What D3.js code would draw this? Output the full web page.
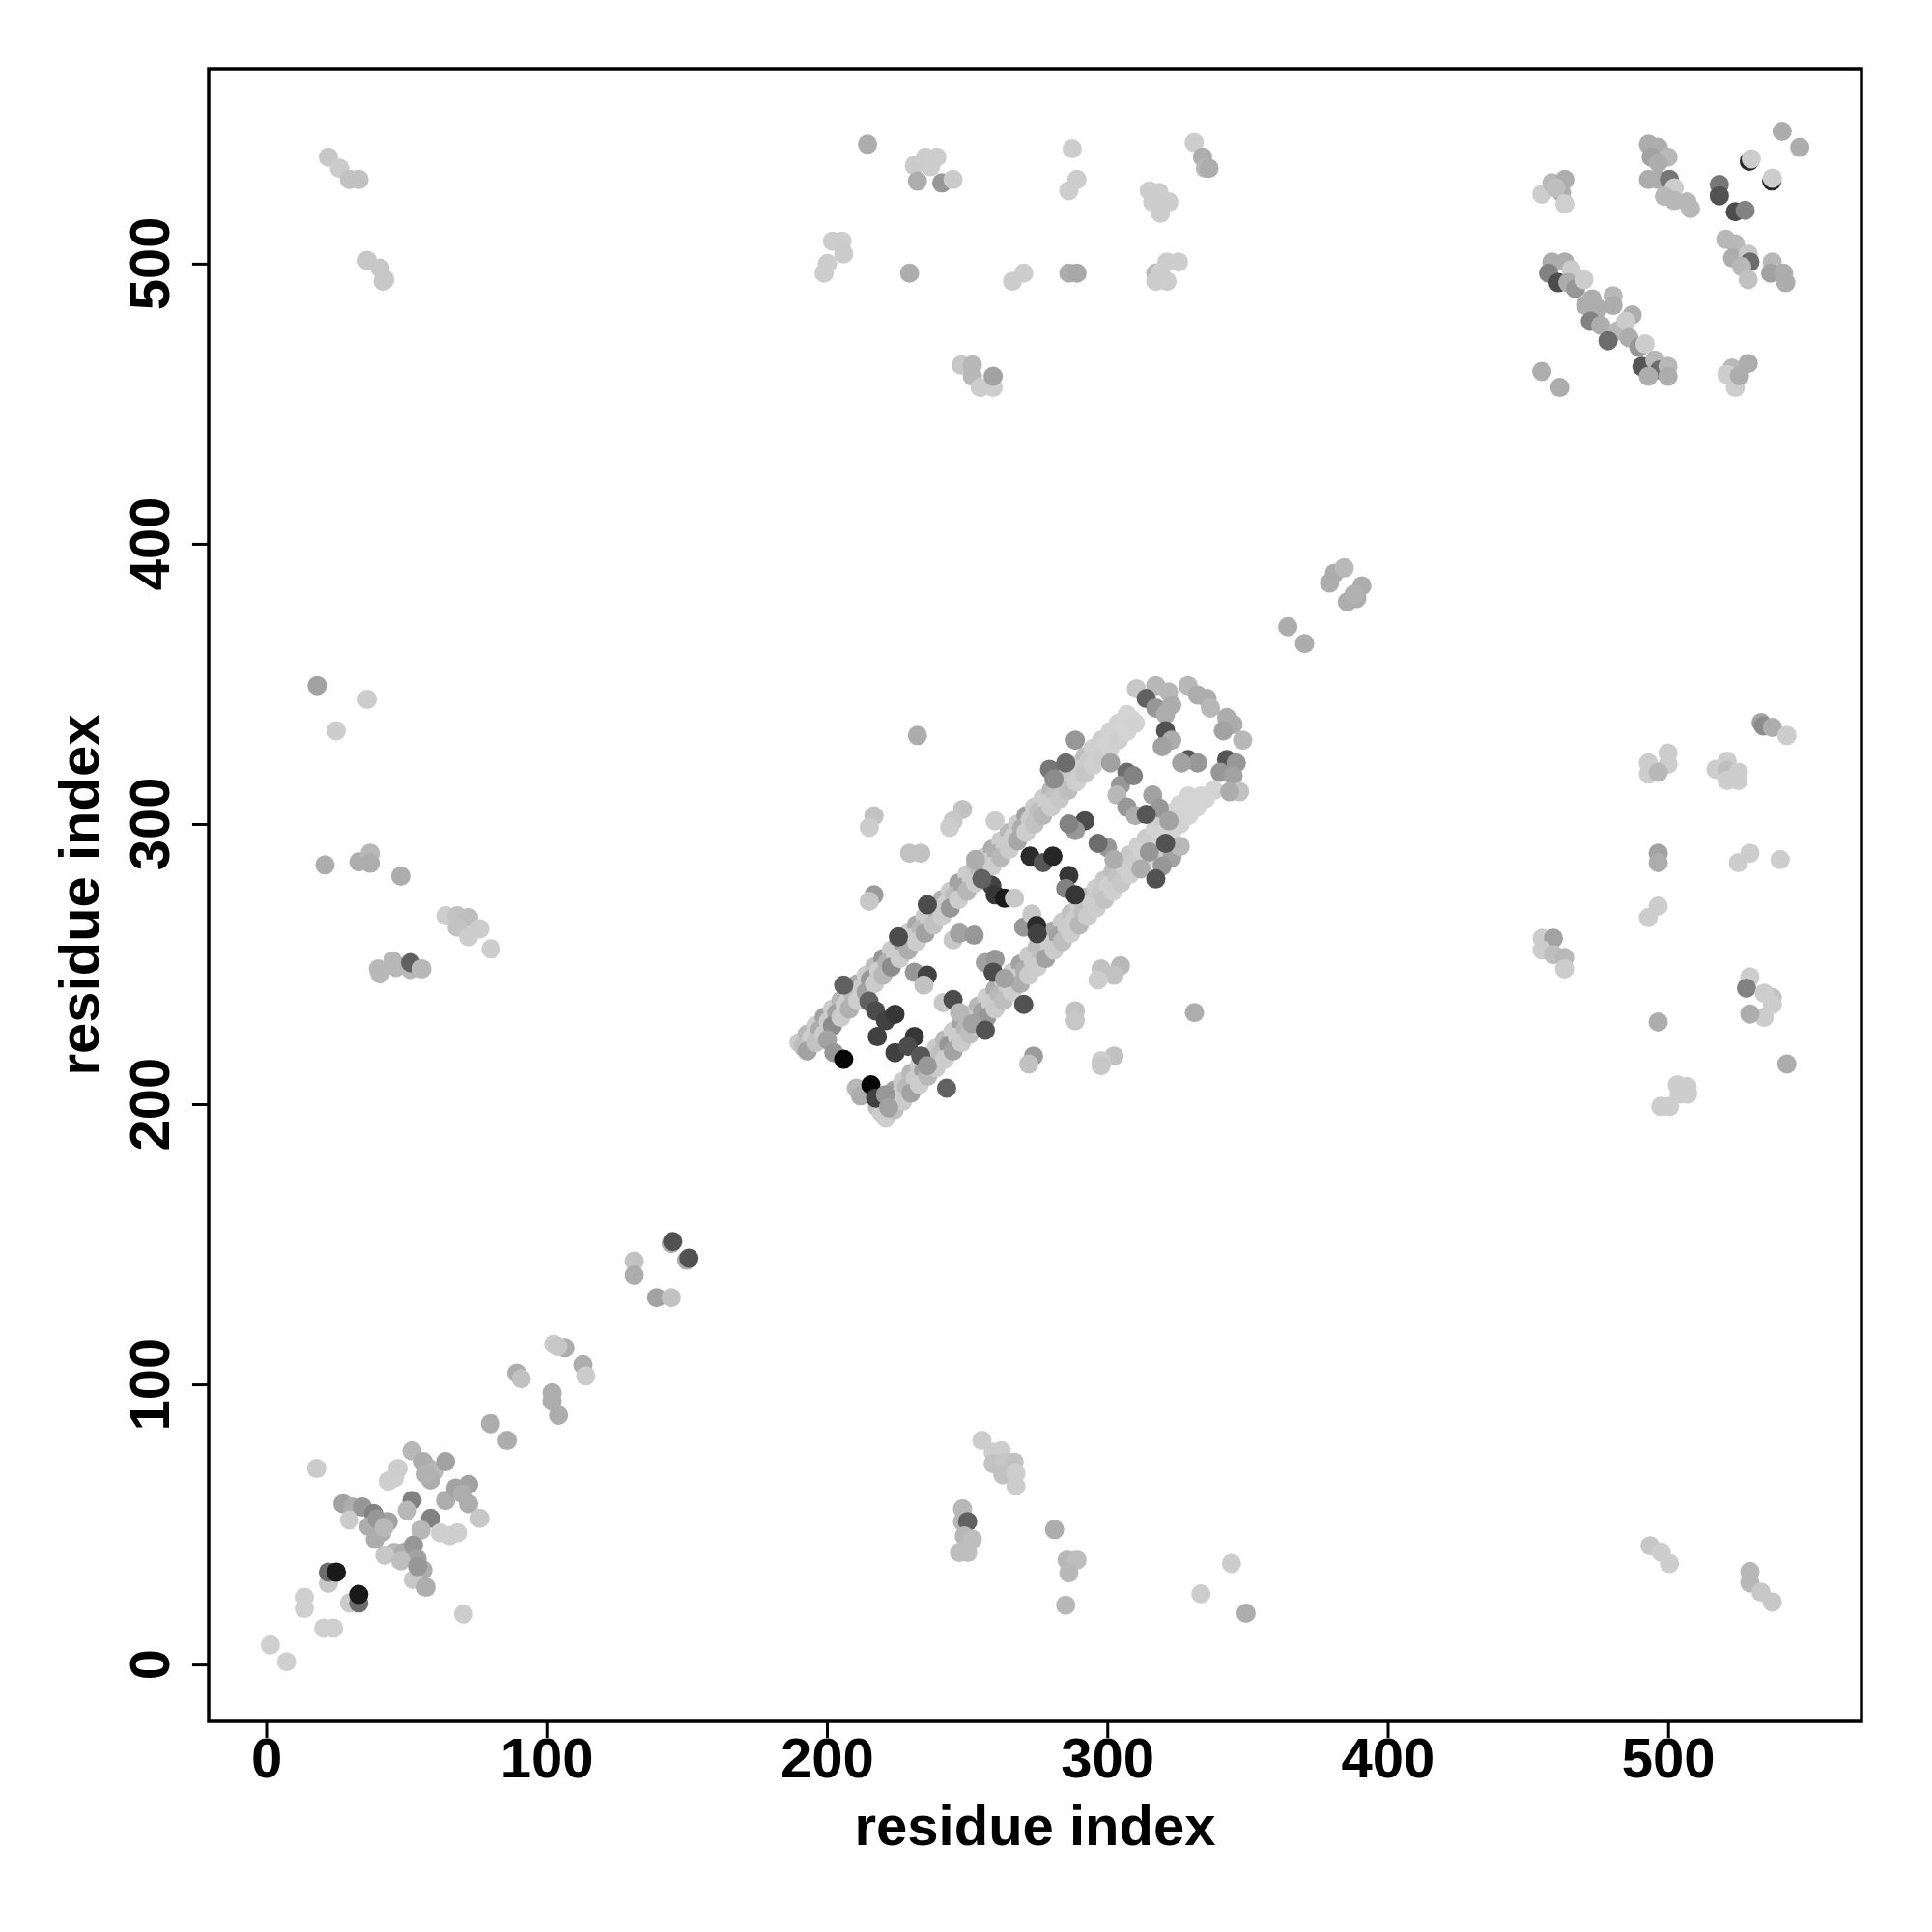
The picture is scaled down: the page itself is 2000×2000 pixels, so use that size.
<!DOCTYPE html>
<html>
<head>
<meta charset="utf-8">
<script src="https://cdn.jsdelivr.net/npm/d3@7"></script>
<style>
  html, body { margin: 0; padding: 0; background: #ffffff; }
  svg { display: block; }
  text { font-family: "Liberation Sans", Arial, Helvetica, sans-serif; font-weight: bold; fill: #000; }
</style>
</head>
<body>
<svg id="chart" width="2000" height="2000"></svg>
<script>
// ---------- DATA: [residue i, residue j, contact score 0..1] ----------
const xTicks = [0, 100, 200, 300, 400, 500];
const yTicks = [0, 100, 200, 300, 400, 500];
const xLabel = "residue index";
const yLabel = "residue index";

const diagLow = [
  [1.5,7,0.04],[7.3,1,0.04],[13.6,24,0.04],[13.6,20,0.04],[20.5,13,0.04],[24,13,0.04],
  [22.2,29,0.08],[22.2,33,0.5],[25,33,0.88],[29.7,22,0.06],[33,22,0.5],[33,25,0.88],
  [18,70,0.06],[70.4,18,0.05],
  [27.4,57.4,0.25],[30.8,56.2,0.2],[34.3,56.2,0.3],[38.3,53.9,0.4],[43.5,51,0.25],[29.7,51.6,0.06],
  [36.6,49.3,0.2],[41.2,47,0.2],[38.9,44.7,0.2],[39.5,52,0.3],[42,49,0.15],
  [45.7,66.6,0.04],[43.5,65.5,0.04],[47,70,0.05],[52,76.3,0.15],[56,72.4,0.2],[58,70,0.2],[60,69,0.15],
  [64,72.4,0.25],[58.6,65.9,0.2],[57,68,0.18],
  [52,58.6,0.4],[50.3,55,0.15],[58.6,52.2,0.4],[55.2,48,0.15],
  [64,58.6,0.2],[67.6,63,0.25],[72.2,64.3,0.25],[70,61,0.2],[72.2,57.4,0.2],[76.2,52.2,0.08],
  [65.5,46,0.04],[62.1,47,0.04],[68.2,47,0.04],
  [45.7,40,0.15],[49,40,0.2],[52.5,42.6,0.3],[53.8,37.7,0.25],[55.9,33.8,0.2],[52.5,30.3,0.08],
  [57,27.6,0.2],[42.3,39,0.08],[48,37,0.12],[54,35,0.3],
  [89.4,104,0.2],[91,102,0.1],[80,86,0.2],[86,80,0.2],
  [102,97,0.2],[102,94,0.2],[104.3,89,0.2],[102.6,114.3,0.06],[106.6,113,0.2],[104,113.5,0.08],
  [113,107,0.2],[114,103,0.06],
  [131.3,144,0.1],[131.3,139,0.2],[144.5,150.3,0.2],[145,151,0.62],[150,144.3,0.2],[150.8,145,0.62],
  [139.3,131,0.25],[144.5,131,0.1]
];

const diagMid = [
  [364.4,370.4,0.2],[370.4,364.4,0.2],[379.3,386,0.2],[381,389.5,0.2],[384.5,391.4,0.15],
  [390.8,385,0.2],[385.6,379.3,0.2],[389,380.5,0.2],[388,382,0.18]
];

// upper light strip of the central band (three rows, j - i about 32, 29, 26)
const bandUpper = [
  [190,222,0.06],[193,225,0.15],[196,228,0.05],[199,231,0.25],[202,234,0.06],[205,237,0.15],[208,240,0.05],
  [211,243,0.2],[214,246,0.05],[217,249,0.12],[220,252,0.3],[223,255,0.06],[226,258,0.15],[229,261,0.05],
  [232,264,0.22],[235,267,0.06],[238,270,0.05],[241,273,0.18],[244,276,0.06],[247,279,0.25],[250,282,0.05],
  [253,285,0.12],[256,288,0.05],[259,291,0.2],[262,294,0.06],[265,297,0.15],[268,300,0.05],[271,303,0.25],
  [274,306,0.06],[277,309,0.05],[280,312,0.15],[283,315,0.06],[286,318,0.1],[289,321,0.04],[292,324,0.12],
  [295,327,0.04],[298,330,0.05],[301,333,0.03],[304,336,0.03],[307,339,0.02],
  [191.5,220.5,0.12],[194.5,223.5,0.05],[197.5,226.5,0.2],[200.5,229.5,0.06],[203.5,232.5,0.25],[206.5,235.5,0.05],
  [209.5,238.5,0.15],[212.5,241.5,0.06],[215.5,244.5,0.3],[218.5,247.5,0.05],[221.5,250.5,0.18],[224.5,253.5,0.06],
  [227.5,256.5,0.25],[230.5,259.5,0.05],[233.5,262.5,0.15],[236.5,265.5,0.06],[239.5,268.5,0.2],[242.5,271.5,0.05],
  [245.5,274.5,0.12],[248.5,277.5,0.25],[251.5,280.5,0.06],[254.5,283.5,0.15],[257.5,286.5,0.05],[260.5,289.5,0.18],
  [263.5,292.5,0.06],[266.5,295.5,0.05],[269.5,298.5,0.2],[272.5,301.5,0.06],[275.5,304.5,0.12],[278.5,307.5,0.05],
  [281.5,310.5,0.1],[284.5,313.5,0.05],[287.5,316.5,0.08],[290.5,319.5,0.04],[293.5,322.5,0.06],[296.5,325.5,0.04],
  [299.5,328.5,0.03],[302.5,331.5,0.03],[305.5,334.5,0.02],[308.5,337.5,0.02],
  [193,219,0.25],[196,222,0.1],[199,225,0.05],[202,228,0.35],[205,231,0.06],[208,234,0.18],[211,237,0.05],
  [214,240,0.25],[217,243,0.06],[220,246,0.15],[223,249,0.35],[226,252,0.06],[229,255,0.2],[232,258,0.05],
  [235,261,0.25],[238,264,0.1],[241,267,0.06],[244,270,0.3],[247,273,0.05],[250,276,0.15],[253,279,0.06],
  [256,282,0.25],[259,285,0.05],[262,288,0.15],[265,291,0.06],[268,294,0.22],[271,297,0.05],[274,300,0.1],
  [277,303,0.15],[280,306,0.05],[283,309,0.08],[286,312,0.12],[289,315,0.04],[292,318,0.08],[295,321,0.04],
  [298,324,0.05],[301,327,0.03],[304,330,0.04],[307,333,0.02],[310,336,0.03]
];

// lower light strip of the central band (three rows, j - i about -19, -22.5, -26)
const bandLower = [
  [210.5,205.7,0.15],[212,203,0.2],
  [218,199,0.12],[221,202,0.05],[224,205,0.25],[227,208,0.06],[230,211,0.15],[233,214,0.05],[236,217,0.3],
  [239,220,0.06],[242,223,0.15],[245,226,0.05],[248,229,0.25],[251,232,0.06],[254,235,0.15],[257,238,0.05],
  [260,241,0.2],[263,244,0.06],[266,247,0.05],[269,250,0.25],[272,253,0.06],[275,256,0.12],[278,259,0.05],
  [281,262,0.2],[284,265,0.06],[287,268,0.1],[290,271,0.05],[293,274,0.15],[296,277,0.05],[299,280,0.08],
  [302,283,0.12],[305,286,0.04],[308,289,0.08],[311,292,0.04],[314,295,0.06],[317,298,0.03],[320,301,0.05],
  [323,304,0.03],[326,307,0.02],[329,310,0.02],
  [219.5,197,0.06],[222.5,200,0.2],[225.5,203,0.05],[228.5,206,0.15],[231.5,209,0.06],[234.5,212,0.25],
  [237.5,215,0.05],[240.5,218,0.12],[243.5,221,0.3],[246.5,224,0.05],[249.5,227,0.15],[252.5,230,0.06],
  [255.5,233,0.25],[258.5,236,0.05],[261.5,239,0.15],[264.5,242,0.06],[267.5,245,0.05],[270.5,248,0.2],
  [273.5,251,0.06],[276.5,254,0.12],[279.5,257,0.05],[282.5,260,0.25],[285.5,263,0.06],[288.5,266,0.05],
  [291.5,269,0.12],[294.5,272,0.05],[297.5,275,0.08],[300.5,278,0.04],[303.5,281,0.1],[306.5,284,0.04],
  [309.5,287,0.06],[312.5,290,0.03],[315.5,293,0.05],[318.5,296,0.03],[321.5,299,0.02],[324.5,302,0.03],
  [327.5,305,0.02],[330.5,308,0.02],[333.5,310,0.02],
  [221,195,0.05],[224,198,0.12],[227,201,0.06],[230,204,0.25],[233,207,0.05],[236,210,0.15],[239,213,0.06],
  [242,216,0.05],[245,219,0.25],[248,222,0.06],[251,225,0.12],[254,228,0.05],[257,231,0.3],[260,234,0.06],
  [263,237,0.12],[266,240,0.05],[269,243,0.2],[272,246,0.06],[275,249,0.05],[278,252,0.25],[281,255,0.06],
  [284,258,0.12],[287,261,0.05],[290,264,0.15],[293,267,0.06],[296,270,0.05],[299,273,0.1],[302,276,0.04],
  [305,279,0.08],[308,282,0.04],[311,285,0.06],[314,288,0.03],[317,291,0.05],[320,294,0.03],[323,297,0.02],
  [326,300,0.03],[329,303,0.02],[332,306,0.02],[335,309,0.02],[338,312,0.02]
];

const bandRungs = [
  [200.2,223,0.25],[202.5,218.4,0.3],[206,216,0.97],
  [215.7,206.9,0.97],[217.4,202.2,0.7],[220.9,203.4,0.3],[222,198.8,0.25],
  [215,236.7,0.55],[217.4,233.3,0.65],[220.9,229.8,0.7],[224.3,232.1,0.75],[218,224.1,0.7],
  [224.3,218.4,0.7],[231.2,224.1,0.75],[228.9,220.6,0.65],[233.5,217.2,0.6],[235.8,213.7,0.3],
  [242.7,205.7,0.55],
  [206,242.5,0.55],[225.5,259.7,0.65],[235.8,271.2,0.65],[231.2,247.1,0.3],[235.8,246,0.7],[234.6,242.5,0.1],
  [241.5,236.2,0.08],[245,237.3,0.65],[247.3,232.7,0.15],[251.9,228.7,0.25],[256.5,226.4,0.62],[270.2,235.6,0.62],
  [245,258.6,0.08],[247.3,261,0.25],[252.5,260.3,0.3],
  [256.5,250.5,0.25],[260,251.7,0.3],[259.3,247.1,0.65],[263.4,244.8,0.25],
  [258.8,278.1,0.7],[260,274.7,0.75],[263.4,273.5,0.88],[266.9,273.5,0.08],
  [272.5,288.5,0.8],[277.1,286.2,0.6],[280.6,288.5,0.82],
  [270.2,263.2,0.3],[273.1,267.8,0.08],[274.8,263.8,0.8],[275,260.9,0.7],
  [286.3,281.6,0.75],[285.2,277,0.4],[288.6,274.7,0.75],
  [279.4,319.5,0.45],[281,316,0.35],[288.6,329.9,0.3],[285.2,321.8,0.5],
  [253,287.3,0.2],[255.3,280.4,0.55],
  [292,301.1,0.65],[288.6,297.7,0.3],[286.3,300,0.4],
  [300.1,291.6,0.3],[302.4,287.3,0.2],[296.7,293.1,0.5],
  [301.2,321.8,0.25],[307,318.4,0.5],[304.7,313.8,0.3],[309.3,317.2,0.4],[303.5,310.3,0.15],
  [307,306,0.3],[310,303,0.2],[316.2,310.3,0.25],[318.5,305.7,0.3],[313.9,303.4,0.6],[322,301.1,0.25],
  [315,290,0.3],[323,288,0.25],[312,284,0.2],[326,292,0.15],
  [320.8,293.1,0.62],[319.6,285,0.3],[317.3,280.4,0.62]
];

const bandCorner = [
  [310.4,348.3,0.08],[317.3,349.4,0.15],[321.9,347.1,0.15],[313.9,344.8,0.55],[317.3,341.4,0.3],
  [320.8,339.1,0.2],[323,342.5,0.2],
  [320.8,333.3,0.62],[323,329.9,0.2],[319.6,327.6,0.25],
  [328.8,349.4,0.15],[332.2,346,0.2],[335.6,344.8,0.2],[336.8,341.4,0.15],
  [342.6,338,0.2],[344.9,335.6,0.2],[341.4,333.3,0.25],[348.3,329.9,0.15],
  [328.8,323,0.6],[332.2,321.8,0.3],[326.5,321.8,0.25],
  [342.6,323,0.6],[346,321.8,0.3],[340.3,318.4,0.3],[344.9,317.2,0.25],[347.2,311.5,0.1],[343.7,311.5,0.2]
];

const bandOutliers = [
  [232.3,331.6,0.2],[216.8,302.9,0.1],[215.1,298.8,0.05],[248.4,305.2,0.1],[245,301.1,0.08],[243.8,298.8,0.05],
  [229.5,289.6,0.1],[233.5,289.6,0.1],[216.8,274.7,0.28],[215.1,272.4,0.08],[260,301.1,0.05],
  [288.6,233.3,0.1],[288.6,229.8,0.08],[331.1,232.7,0.2],[273.7,217.2,0.28],[272,214.3,0.1],
  [302.4,217.2,0.1],[297.8,215.5,0.05],[297.8,213.7,0.08],
  [297.8,248.3,0.1],[304.7,249.4,0.15],[302.4,246,0.1],[296.7,244.3,0.05]
];

const topMiddle = [
  [214.5,542.6,0.2],[231.2,535,0.06],[235.2,538,0.05],[239.2,538,0.05],[237,534.6,0.05],
  [232.3,529.4,0.2],[241,528.8,0.3],[245,530,0.06],
  [287.5,541,0.05],[289.2,530,0.05],[286.3,526,0.05],
  [331,543.2,0.05],[334,538,0.2],[335,534,0.15],[336.3,534,0.2],
  [315,526,0.05],[318.5,525.4,0.05],[316.2,522,0.05],[322,522,0.05],[319,518,0.05],
  [202,508,0.05],[205.4,508,0.05],[206,503.5,0.06],[200.2,500,0.05],[199,496.6,0.05],
  [229.5,496.6,0.2],[266.2,493.7,0.05],[270.2,496.6,0.05],[286.3,496.6,0.2],[289.2,496.6,0.22],
  [317.3,496.6,0.15],[321.3,500.6,0.05],[325.4,500.6,0.05],[317.3,493.7,0.05],[321.3,493.7,0.05],[319,497,0.05],
  [247.9,463.8,0.08],[251.9,463.8,0.15],[251.9,459.8,0.15],[254.7,455.8,0.05],[259.3,455.8,0.05],[259.3,459.8,0.25]
];

const topLeft = [
  [22.2,538,0.08],[26.2,534,0.06],[29.7,530,0.1],[33.1,530,0.1],
  [36,501.2,0.08],[40.6,498.4,0.08],[41.7,493.7,0.08],[42.3,494.3,0.08]
];

const topRight = [
  [455,524.8,0.05],[458.6,528.8,0.15],[463.2,530,0.2],[462,525.4,0.2],[460,527,0.12],[463.2,521.3,0.04],
  [493,542.6,0.2],[496.5,541.5,0.2],[500,538,0.15],[494,538,0.25],[496.5,536,0.2],
  [493,530,0.2],[496.5,530,0.2],[500.5,530,0.45],[502.2,527,0.05],[498.7,524,0.15],[502.2,522.5,0.15],
  [506.8,522,0.15],[508,519.6,0.15],
  [518.3,528.2,0.45],[518.3,524.2,0.62],[524,518.5,0.65],[527.5,519,0.4],
  [529,536.5,0.82],[529.7,537.4,0.05],[537,529.5,0.82],[537.2,530.5,0.05],
  [540.7,547.2,0.2],[547,541.5,0.2],
  [520.6,508.7,0.15],[524,507,0.15],[523,502,0.2],[528.6,503.4,0.08],[529.2,500.6,0.5],[526.3,498.9,0.15],[528.6,494.3,0.1],
  [537.2,500.6,0.15],[536.6,496.6,0.25],[541.2,496.6,0.2],[542,493.2,0.2],
  [522.8,462.7,0.15],[528.6,464.4,0.2],[524,455.8,0.05],[521,460.5,0.05],[525.5,460,0.2],
  [455,461.5,0.2],[461.4,455.8,0.2],
  [458.6,500.6,0.2],[463.2,500.6,0.2],[457.4,496.6,0.4],[460.8,493.2,0.65],[465.5,497.8,0.06],[464.3,493.2,0.2],
  [467,491,0.3],[470,494.3,0.05],[472.9,487.4,0.2],[470.6,485.1,0.2],[475,484,0.2],[480.4,488.5,0.15],
  [480.4,485.1,0.2],[472.3,479.4,0.4],[476,478,0.2],[482,476,0.15],[478.6,472.5,0.5],[487.2,481.7,0.2],
  [485,479.4,0.06],[486,473.6,0.2],[489.6,470.1,0.3],[491.8,471.3,0.05],[490.7,463.3,0.6],[495.3,465.6,0.15],
  [497,462,0.5],[500,463.3,0.15],[493,459.8,0.2],[500,459.8,0.2]
];

const rightMiddle = [
  [533.2,336.2,0.25],[534,335,0.35],[537.2,334.5,0.2],[542.4,331.6,0.05],
  [493,321.8,0.05],[500,325.3,0.05],[500,321.3,0.05],[493,317.8,0.05],[496.5,318.4,0.15],
  [517.1,319.5,0.05],[521.1,322.4,0.05],[521.1,319,0.12],[525.1,318.4,0.05],[521.1,315.5,0.05],[525.1,315.5,0.05],
  [496.5,289.6,0.25],[496.5,286.2,0.2],[525.1,286.2,0.05],[529.2,289.6,0.05],[540,287.3,0.05],
  [496.5,270.7,0.05],[493,266.6,0.05],
  [455.1,259.2,0.05],[459.1,259.2,0.25],[455.1,255,0.05],[459.1,253.4,0.12],[463.1,252.3,0.15],[463.1,248.3,0.05],
  [529.2,245.4,0.05],[528,241.4,0.4],[537.2,238,0.1],[534.3,239.6,0.05],[537.2,235.6,0.05],[534.3,231,0.05],[529.2,232.2,0.2],
  [496.5,229.3,0.2],[542.4,214.3,0.2],
  [503.3,206.9,0.05],[506.8,206.3,0.05],[497.4,199.2,0.05],[500.5,199.2,0.05],[504,203.6,0.05],[507,203.6,0.05]
];

const leftMiddle = [
  [18.2,349.4,0.25],[36,344.5,0.05],[25,333.3,0.05],
  [21,285.4,0.2],[33.1,286.5,0.2],[37.1,289.6,0.15],[37.1,286,0.2],[48,281.4,0.2],
  [64.1,267.2,0.05],[68.1,267.2,0.1],[72.2,266.6,0.12],[68.1,263.2,0.1],[72.2,259.7,0.05],[76.2,262.6,0.05],[80.2,255.4,0.05],
  [40,248.3,0.15],[40.6,246.5,0.15],[45.2,251.1,0.15],[46.3,248.8,0.15],[51.5,248,0.15],[51.5,250.5,0.55],[55.5,248.3,0.15]
];

const bottomMiddle = [
  [255.3,80,0.05],[259.3,75.8,0.05],[262.2,76.3,0.05],[259.3,71.7,0.1],[263.4,72.3,0.08],[266.8,72.3,0.1],
  [262.8,67.7,0.1],[267.4,68.3,0.05],[267.4,63.7,0.05],
  [248.4,55.6,0.15],[248.4,51,0.15],[250.2,51,0.55],[249,45.9,0.15],[251.9,44.7,0.12],[247.3,40,0.12],[250.2,40,0.12],
  [281.2,48.2,0.2],[285.7,37.3,0.15],[289.2,37.3,0.12],[286.3,32.7,0.15],[285.2,21.2,0.15],
  [344.3,36.1,0.05],[333.4,25.2,0.05],[349.5,18.3,0.2]
];

const bottomRight = [
  [493.6,42.4,0.08],[497.6,40.1,0.05],[500.5,36.1,0.05],
  [529.2,33.2,0.15],[529.2,29.2,0.15],[533.2,25.8,0.08],[537.2,22.3,0.08]
];

// ---------- CHART ----------
const W = 2000, H = 2000;
const plot = { left: 216, right: 1927, top: 71, bottom: 1782 };

const x = d3.scaleLinear().domain([-20.5, 569]).range([plot.left, plot.right]);
const y = d3.scaleLinear().domain([-20.3, 569.6]).range([plot.bottom, plot.top]);
const grey = d3.scaleLinear().domain([0, 1]).range(["#d8d8d8", "#000000"]).clamp(true);

const svg = d3.select("#chart");
svg.append("rect").attr("width", W).attr("height", H).attr("fill", "#fff");

const points = [].concat(diagLow, diagMid, bandUpper, bandLower, bandRungs, bandCorner,
  bandOutliers, topMiddle, topLeft, topRight, rightMiddle, leftMiddle, bottomMiddle, bottomRight);

svg.append("g")
  .selectAll("circle")
  .data(points)
  .join("circle")
  .attr("cx", d => x(d[0]))
  .attr("cy", d => y(d[1]))
  .attr("r", 10)
  .attr("fill", d => grey(d[2]));

// box
svg.append("rect")
  .attr("x", plot.left).attr("y", plot.top)
  .attr("width", plot.right - plot.left).attr("height", plot.bottom - plot.top)
  .attr("fill", "none").attr("stroke", "#000").attr("stroke-width", 3.5);

// x axis
const gx = svg.append("g")
  .attr("transform", `translate(0,${plot.bottom})`)
  .call(d3.axisBottom(x).tickValues(xTicks).tickSize(17).tickPadding(0).tickFormat(d3.format("d")));
gx.select(".domain").remove();
gx.selectAll(".tick line").attr("stroke", "#000").attr("stroke-width", 3);
gx.selectAll(".tick text")
  .attr("font-size", 58).attr("font-weight", "bold")
  .attr("font-family", "'Liberation Sans', Arial, Helvetica, sans-serif")
  .attr("fill", "#000");

// y axis (ticks from d3, labels rotated like R's default)
const gy = svg.append("g")
  .attr("transform", `translate(${plot.left},0)`)
  .call(d3.axisLeft(y).tickValues(yTicks).tickSize(17).tickFormat(""));
gy.select(".domain").remove();
gy.selectAll(".tick line").attr("stroke", "#000").attr("stroke-width", 3);

svg.append("g").selectAll("text")
  .data(yTicks)
  .join("text")
  .attr("x", 175).attr("y", d => y(d))
  .attr("transform", d => `rotate(-90,175,${y(d)})`)
  .attr("text-anchor", "middle")
  .attr("font-size", 58)
  .text(d => d3.format("d")(d));

// axis titles
svg.append("text")
  .attr("x", (plot.left + plot.right) / 2).attr("y", 1910)
  .attr("text-anchor", "middle").attr("font-size", 58)
  .text(xLabel);

svg.append("text")
  .attr("transform", `translate(102,${(plot.top + plot.bottom) / 2}) rotate(-90)`)
  .attr("text-anchor", "middle").attr("font-size", 58)
  .text(yLabel);
</script>
</body>
</html>
